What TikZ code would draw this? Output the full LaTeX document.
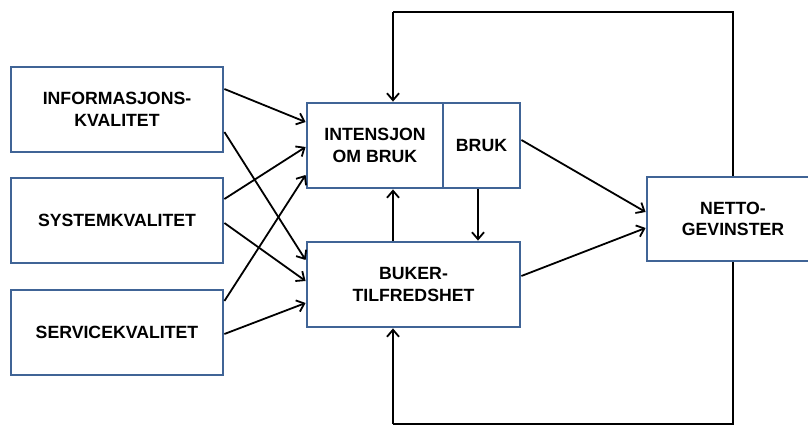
\documentclass[tikz,border=0pt]{standalone}
\usepackage{fontspec}
\setmainfont{Liberation Sans}
\usetikzlibrary{arrows.meta}
\definecolor{boxblue}{RGB}{64,100,150}
\tikzset{
  box/.style={draw=boxblue, line width=2.8pt, fill=white, align=center,
    font=\fontsize{17.7}{21.7}\selectfont\bfseries, inner sep=0pt, minimum height=85pt},
  arr/.style={draw=black, line width=1.8pt, -{Straight Barb[length=7pt,width=12pt]}},
  ln/.style={draw=black, line width=1.8pt}
}
\begin{document}
\begin{tikzpicture}[x=1pt,y=1pt]
\useasboundingbox (0,0) rectangle (808,425);
% boxes (y = 425 - pixel y)
\node[box, minimum width=212pt] (info) at (117,315.5) {INFORMASJONS-\\KVALITET};
\node[box, minimum width=212pt] (sys) at (117,204.5) {SYSTEMKVALITET};
\node[box, minimum width=212pt] (serv) at (117,92.5) {SERVICEKVALITET};
\node[box, minimum width=136pt] (int) at (375,279.5) {INTENSJON\\OM BRUK};
\node[box, minimum width=77pt] (bruk) at (481.5,279.5) {BRUK};
\node[box, minimum width=213pt] (buker) at (413.5,140.5) {BUKER-\\TILFREDSHET};
\node[box, minimum width=172pt, minimum height=84pt] (netto) at (733,206) {NETTO-\\GEVINSTER};
% feedback corner coordinates
\coordinate (tl) at (393,412.7);
\coordinate (tr) at (733,412.7);
\coordinate (bl) at (393,0.8);
\coordinate (br) at (733,0.8);
% input arrows
\draw[arr] ([yshift=20.5]info.east) -- ([yshift=23.5]int.west);
\draw[arr] ([yshift=-22.5]info.east) -- ([yshift=24.5]buker.west);
\draw[arr] ([yshift=21.5]sys.east) -- ([yshift=-1.5]int.west);
\draw[arr] ([yshift=-2.5]sys.east) -- ([yshift=3.5]buker.west);
\draw[arr] ([yshift=31.5]serv.east) -- ([yshift=-29.5]int.west);
\draw[arr] ([yshift=-1.5]serv.east) -- ([yshift=-18.5]buker.west);
% vertical arrows between middle boxes
\draw[arr] (buker.north -| tl) -- (int.south -| tl);
\draw[arr] ([xshift=-3.5]bruk.south) -- ([xshift=-3.5]bruk.south |- buker.north);
% to netto
\draw[arr] ([yshift=5.5]bruk.east) -- ([yshift=7]netto.west);
\draw[arr] ([yshift=8.5]buker.east) -- ([yshift=-9]netto.west);
% feedback loops
\draw[ln] (netto.north) -- (tr) -- (tl);
\draw[arr] (tl) -- (int.north -| tl);
\draw[ln] (netto.south) -- (br) -- (bl);
\draw[arr] (bl) -- (buker.south -| bl);
\end{tikzpicture}
\end{document}
